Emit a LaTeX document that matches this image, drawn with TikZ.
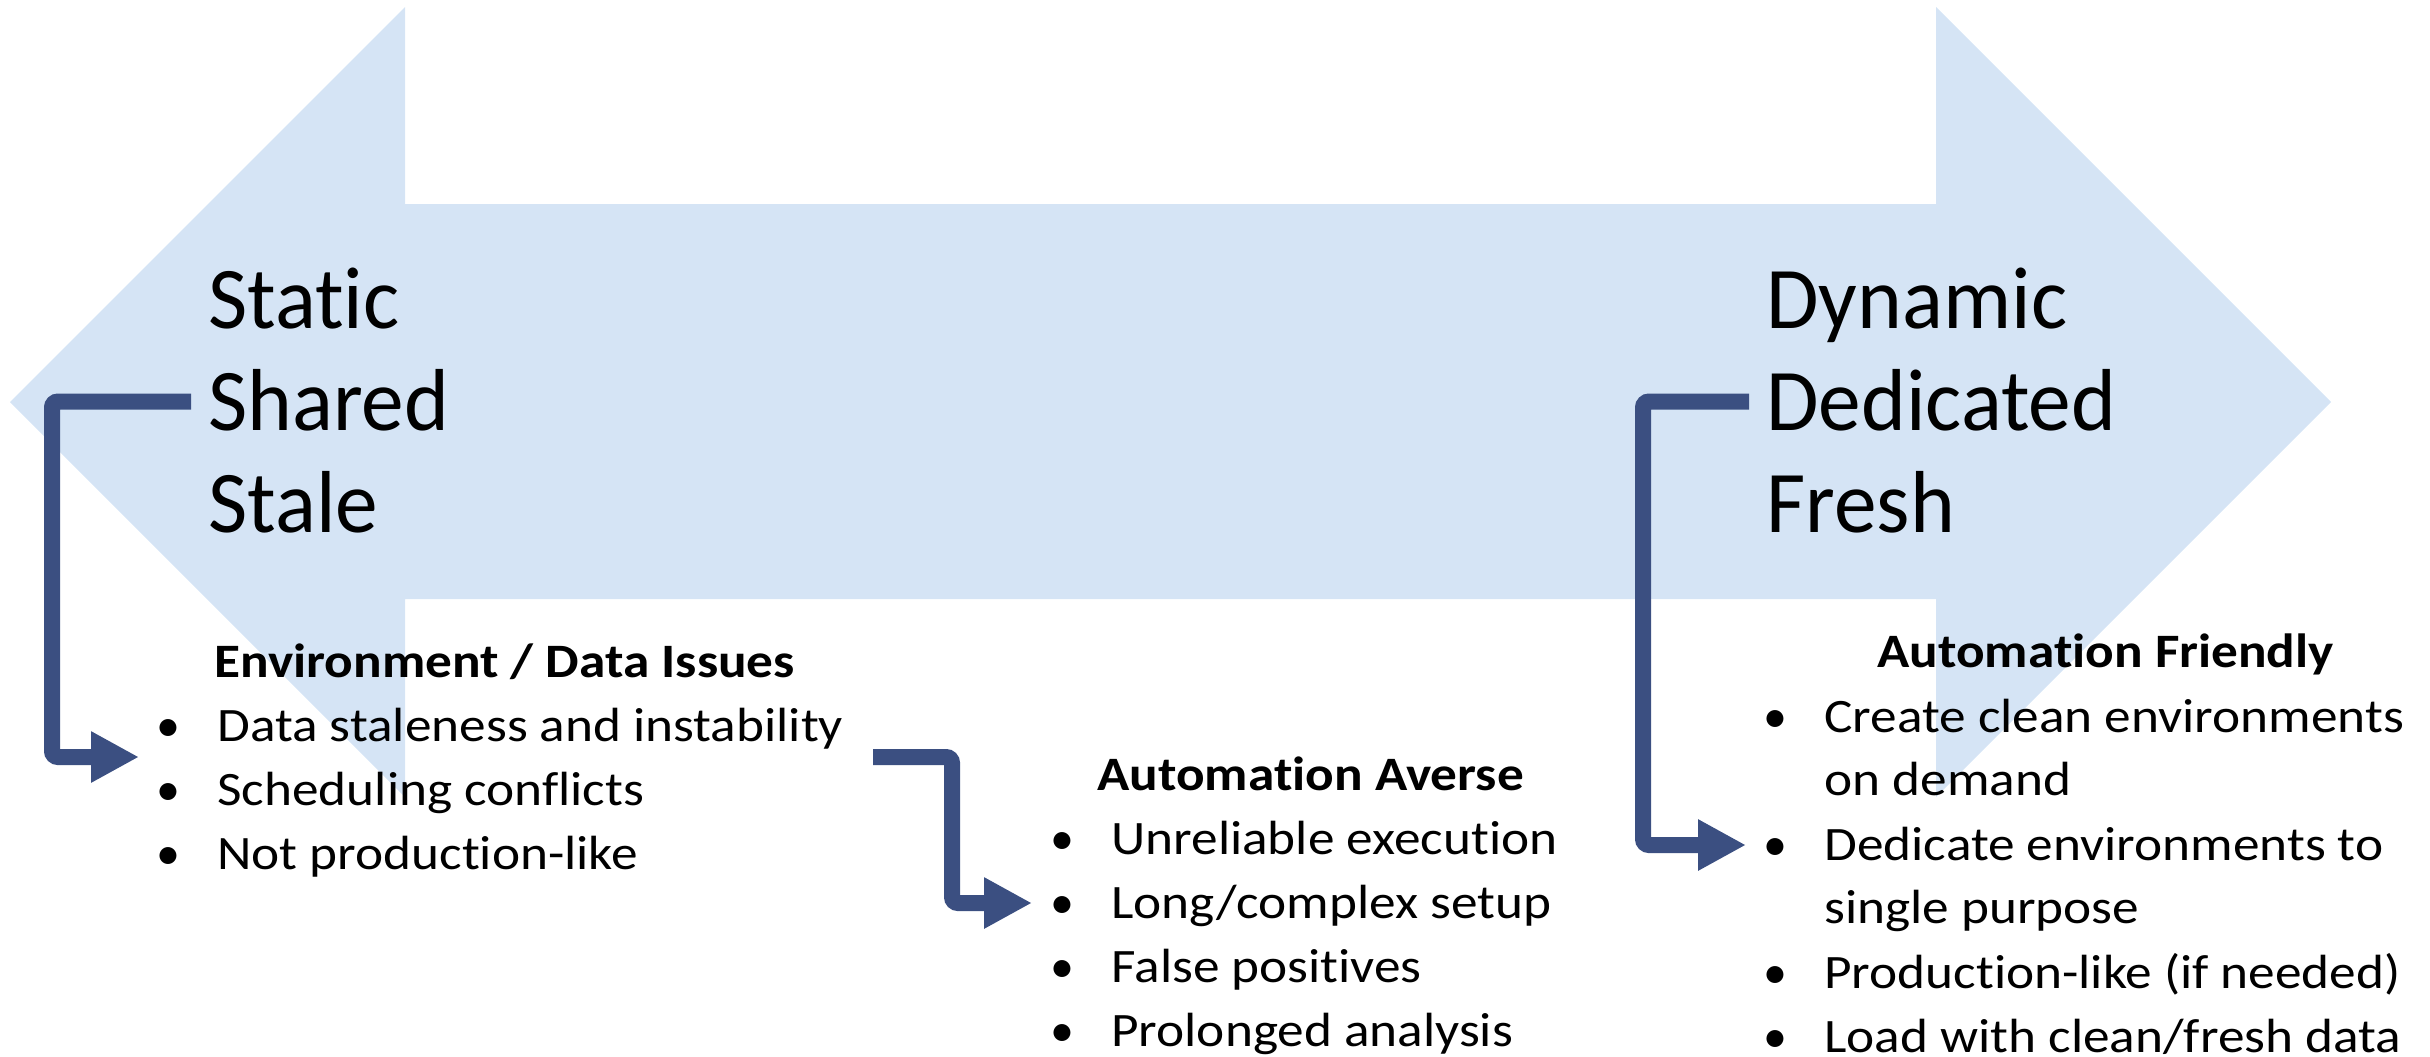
\documentclass[tikz,border=0pt]{standalone}
\usepackage{fontspec}
\setmainfont{Carlito}[Ligatures=NoCommon]
\newfontfamily\listfont{Carlito}[FakeStretch=1.11, Ligatures=NoCommon]
\newfontfamily\bigfont{Carlito}[FakeStretch=0.97, Ligatures=NoCommon]
\usetikzlibrary{arrows.meta}
\definecolor{bigblue}{HTML}{D5E4F5}
\definecolor{linkblue}{HTML}{3B4F81}
\begin{document}
\begin{tikzpicture}[x=0.5pt,y=-0.5pt,
  bigword/.style={font=\bigfont\fontsize{44}{51}\selectfont, anchor=base west, inner sep=0pt},
  item/.style={font=\listfont\fontsize{24}{32}\selectfont, anchor=base west, inner sep=0pt},
  head/.style={font=\listfont\fontsize{24}{32}\selectfont\bfseries, anchor=base west, inner sep=0pt},
  dot/.style={font=\fontsize{24}{32}\selectfont, anchor=base, inner sep=0pt},
  link/.style={draw=linkblue, line width=8pt, rounded corners=3pt, -{Triangle[length=24pt,width=24pt]}}]
\useasboundingbox (0,0) rectangle (2430,1056);
% big double arrow
\fill[bigblue] (10,402) -- (405,7) -- (405,204) -- (1936,204) -- (1936,7) -- (2331,402)
  -- (1936,797) -- (1936,599) -- (405,599) -- (405,797) -- cycle;
% big words
\node[bigword] (static) at (208,328) {Static};
\node[bigword] (shared) at (208,430) {Shared};
\node[bigword] (stale) at (208,532) {Stale};
\node[bigword] (dynamic) at (1766,328) {Dynamic};
\node[bigword] (dedicated) at (1766,430) {Dedicated};
\node[bigword] (fresh) at (1766,532) {Fresh};
% left list
\node[head] (h1) at (214,677) {Environment / Data Issues};
\node[dot] (b11) at (168,741) {•};
\node[item] (t11) at (217,741) {Data staleness and instability};
\node[dot] (b12) at (168,805) {•};
\node[item] (t12) at (217,805) {Scheduling conflicts};
\node[dot] (b13) at (168,869) {•};
\node[item] (t13) at (217,869) {Not production-like};
% middle list
\node[head] (h2) at (1097,790) {Automation Averse};
\node[dot] (b21) at (1062,854) {•};
\node[item] (t21) at (1111,854) {Unreliable execution};
\node[dot] (b22) at (1062,918) {•};
\node[item] (t22) at (1111,918) {Long/complex setup};
\node[dot] (b23) at (1062,982) {•};
\node[item] (t23) at (1111,982) {False positives};
\node[dot] (b24) at (1062,1046) {•};
\node[item] (t24) at (1111,1046) {Prolonged analysis};
% right list
\node[head] (h3) at (1877,667) {Automation Friendly};
\node[dot] (b31) at (1775,732) {•};
\node[item] (t31) at (1824,732) {Create clean environments};
\node[item] (t31b) at (1824,795) {on demand};
\node[dot] (b32) at (1775,860) {•};
\node[item] (t32) at (1824,860) {Dedicate environments to};
\node[item] (t32b) at (1824,923) {single purpose};
\node[dot] (b33) at (1775,988) {•};
\node[item] (t33) at (1824,988) {Production-like (if needed)};
\node[dot] (b34) at (1775,1052) {•};
\node[item] (t34) at (1824,1052) {Load with clean/fresh data};
% connectors
\coordinate (s1) at (191,401.5);
\coordinate (e1) at (139,757);
\coordinate (s2) at (873,757);
\coordinate (e2) at (1032,903);
\coordinate (s3) at (1749,401.5);
\coordinate (e3) at (1746,845);
\draw[link] (s1) -- (52,401.5) -- (52,757) -- (e1);
\draw[link] (s2) -- (952,757) -- (952,903) -- (e2);
\draw[link] (s3) -- (1643,401.5) -- (1643,845) -- (e3);
\end{tikzpicture}
\end{document}
